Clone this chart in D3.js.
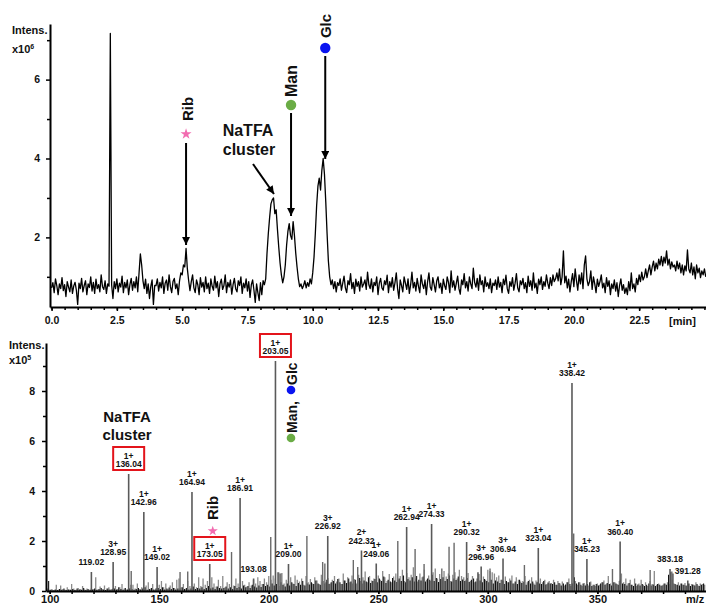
<!DOCTYPE html>
<html><head><meta charset="utf-8">
<script src="https://cdn.jsdelivr.net/npm/d3@7"></script>
<style>body{margin:0;background:#fff;} svg{display:block;font-family:Arial,"Liberation Sans",sans-serif;}</style>
</head><body><svg id="c" width="706" height="606"></svg>
<script>
// ---------- TIC (top) data : intensity x10^6, one value every 0.05 min from 0.00 ----------
const ticStart = 0, ticStep = 0.05;
const ticIntensity = [
0.72,0.85,0.60,0.95,0.78,0.55,0.82,0.70,0.98,0.65,0.80,0.50,0.88,0.74,0.62,0.92,0.58,0.77,0.86,0.66,
0.30,0.84,0.70,0.96,0.62,0.78,0.90,0.55,0.82,0.73,1.00,0.64,0.86,0.58,0.94,0.70,0.80,0.62,1.05,0.75,
0.68,0.90,0.58,0.82,0.76,7.17,0.80,0.45,0.88,0.70,0.95,0.62,0.84,0.74,1.02,0.60,0.86,0.72,0.92,0.55,
0.80,0.96,0.66,0.88,0.72,1.00,0.62,1.10,1.58,1.30,0.90,0.70,0.94,0.58,0.82,0.45,0.76,0.92,0.30,0.78,
0.78,0.95,0.64,0.86,0.72,1.00,0.58,0.84,0.92,0.66,1.05,0.75,0.60,0.88,0.96,0.70,0.82,0.55,0.90,1.10,
1.05,1.30,1.25,1.72,1.20,0.90,0.65,0.88,1.05,0.72,0.60,0.92,0.80,0.55,0.98,0.74,0.86,0.62,1.00,0.70,
0.84,0.58,0.95,0.76,0.66,1.02,0.72,0.88,0.50,0.82,0.94,0.68,0.78,1.05,0.60,0.86,0.74,0.92,0.56,0.80,
0.96,0.70,0.62,0.90,0.78,1.00,0.58,0.84,0.72,0.95,0.64,0.88,0.48,0.80,0.92,0.66,0.35,0.82,0.60,0.40,
0.85,0.55,0.90,0.80,0.95,1.60,2.10,2.50,2.85,2.95,3.00,2.60,2.70,2.20,1.75,1.35,1.05,0.85,1.00,1.30,
1.80,2.15,2.35,2.05,1.95,2.40,2.05,1.60,1.25,0.95,0.75,0.82,0.70,0.78,0.90,0.72,0.85,0.76,0.95,0.82,
1.10,1.50,2.10,2.80,3.30,3.50,3.20,3.70,4.00,3.60,2.90,2.10,1.40,1.00,0.80,0.92,0.70,0.88,0.62,0.85,
0.78,0.95,0.66,0.84,1.02,0.72,0.60,0.90,0.80,1.08,0.70,0.86,0.58,0.94,0.76,0.88,0.64,1.00,0.74,0.82,
0.92,0.68,1.12,0.80,0.70,0.95,0.62,0.86,0.78,1.00,0.55,0.84,0.96,0.72,0.66,0.90,0.80,1.04,0.60,0.88,
0.74,0.98,0.66,0.85,1.10,0.70,0.45,0.92,0.78,0.62,1.00,0.84,0.68,0.95,0.58,0.80,1.12,0.72,0.86,0.64,
0.96,0.76,0.60,1.05,0.82,0.70,0.92,0.55,0.88,1.10,0.74,0.66,0.98,0.80,0.62,0.90,1.00,0.72,0.84,0.58,
0.94,0.78,0.68,1.00,0.86,0.60,1.15,0.74,0.90,0.66,0.84,1.02,0.70,0.56,0.92,0.80,1.08,0.72,0.88,0.64,
1.00,0.82,0.70,1.22,0.86,0.74,0.96,0.66,1.05,0.80,0.90,0.62,1.00,0.76,0.85,0.70,0.95,0.60,0.84,0.78,
0.92,0.68,1.00,0.74,0.86,0.60,0.94,0.80,1.04,0.70,0.58,0.88,0.76,0.98,0.66,0.84,1.08,0.72,0.62,0.90,
0.80,0.96,0.70,0.85,0.60,1.02,0.76,0.90,0.66,1.10,0.72,0.84,0.58,0.94,0.80,1.00,0.68,0.88,0.76,1.05,
0.84,0.70,0.98,0.78,1.05,0.88,0.95,1.10,0.90,1.20,0.80,1.00,1.66,0.85,1.02,0.72,0.94,0.62,0.88,1.08,
0.75,1.20,0.90,0.66,1.05,0.82,1.10,0.70,1.30,1.53,0.95,0.78,0.88,1.15,0.68,1.00,0.82,0.60,0.94,0.76,
0.88,1.05,0.72,0.84,0.60,0.98,0.76,0.90,0.55,0.82,0.70,0.92,0.64,0.85,0.50,0.78,0.95,0.66,0.80,0.58,
0.72,0.55,0.88,0.65,1.10,0.70,0.82,0.62,0.96,0.80,1.05,0.88,1.12,0.92,1.00,1.20,0.98,1.15,1.30,1.05,
1.25,1.40,1.15,1.35,1.20,1.45,1.30,1.52,1.28,1.50,1.35,1.66,1.30,1.45,1.20,1.38,1.25,1.30,1.15,1.40,
1.20,1.35,1.10,1.30,1.05,1.28,1.15,1.68,1.20,1.10,1.35,1.05,1.25,0.95,1.30,1.10,1.22,0.98,1.15,1.05,
1.20,1.00
];
const ticXTicks = [0,2.5,5,7.5,10,12.5,15,17.5,20,22.5];
const ticYTicks = [2,4,6];

// ---------- MS (bottom) data : intensity x10^5 ----------
const msPeakMz = [119.02,128.95,136.04,142.96,149.02,164.94,173.05,186.91,193.08,203.05,209.00,226.92,242.32,249.06,262.94,274.33,290.32,296.96,306.94,323.04,338.42,345.23,360.40,383.18,391.28];
const msPeakInt = [0.76,1.16,4.68,3.16,0.96,3.96,1.08,3.72,0.50,9.20,1.08,2.20,1.62,1.10,2.56,2.68,1.96,0.98,1.30,1.72,8.32,1.28,1.98,0.88,0.42];
const msPeakCharge = ["","3+","1+","1+","1+","1+","1+","1+","","1+","1+","3+","2+","1+","1+","1+","1+","3+","3+","1+","1+","1+","1+","",""];
const msBoxed = [136.04,173.05,203.05];
const msExtraMz = [137.2,159.5,163.0,183.0,200.9,204.5,205.5,217.4,224.6,225.6,238.6,240.6,258.9,266.8,270.9,279.0,282.3,284.6,301.0,316.7,339.2,356.9,374.1,384.0];
const msExtraInt = [0.80,0.76,0.78,1.56,2.16,0.75,0.70,2.20,1.16,1.10,1.24,0.96,2.00,1.68,1.08,0.90,1.77,1.93,0.90,1.04,2.30,0.88,0.84,0.78];
const msNoiseGrayStart = 99;   // one gray bar per m/z unit
const msNoiseGray = [
.10,.05,.08,.04,.25,.06,.22,.08,.05,.15,
.06,.28,.10,.05,.12,.08,.20,.06,.10,.05,
.10,.08,.55,.06,.18,.08,.22,.10,.15,.05,
.12,.20,.08,.15,.28,.10,.06,.12,.25,.25,
.10,.30,.08,.15,.06,.22,.35,.10,.28,.05,
.12,.25,.40,.15,.30,.08,.22,.35,.12,.45,
.50,.15,.28,.10,.40,.20,.06,.30,.15,.55,
.20,.50,.25,.40,.12,.55,.30,.18,.45,.20,
.60,.15,.35,.28,.10,.22,.50,.30,.12,.40,
.25,.18,.35,.22,.45,.30,.55,.40,.28,.50,
.35,.60,.45,.62,.50,.75,.70,.72,.30,.45,
.40,.55,.30,.62,.45,.38,.50,.25,.60,.35,
.48,.30,.55,.42,.28,.65,.40,.35,.52,.30,
.45,.60,.38,.50,.28,.70,.42,.55,.35,.62,
.48,.30,.65,.40,.55,.78,.35,.60,.42,.50,
.38,.62,.45,.80,.55,.40,.68,.35,.58,.70,
.45,.60,.85,.40,.72,.55,.65,.95,.50,.38,
.70,.55,.85,.45,.62,.40,.75,.90,.50,.68,
.45,.80,.58,.70,.40,.65,.75,.50,.85,.60,
.55,.45,.72,.40,.60,.35,.50,.68,.42,.58,
.45,.85,.80,.75,.70,.55,.62,.45,.40,.58,
.35,.50,.62,.30,.55,.45,.38,.40,.60,.35,
.45,.55,.30,.42,.38,.50,.35,.45,.28,.40,
.32,.45,.25,.40,.30,.38,.22,.35,.50,.20,
.30,.40,.25,.35,.20,.32,.28,.22,.38,.25,
.20,.30,.25,.35,.42,.28,.60,.30,.22,.35,
.28,.40,.70,.35,.50,.30,.45,.25,.50,.20,
.30,.45,.25,.35,.20,.40,.28,.80,.25,.30,
.20,.25,.30,.35,.28,.45,.30,.25,.35,.30,
.25,.32,.20,.30,.28,.25,.35,.22,.30,.28,
.25];
const msNoiseBlackStart = 99.5; // one black bar per m/z unit, offset by 0.5
const msNoiseBlack = [
.40,.05,.03,.06,.04,.08,.05,.10,.04,.06,
.05,.08,.04,.10,.06,.05,.12,.04,.08,.05,
.06,.10,.05,.08,.12,.06,.04,.10,.06,.08,
.10,.06,.15,.08,.05,.12,.06,.10,.08,.05,
.08,.12,.06,.10,.15,.05,.08,.12,.06,.10,
.12,.08,.15,.06,.10,.14,.08,.12,.06,.10,
.10,.15,.08,.12,.06,.10,.18,.08,.12,.10,
.15,.08,.12,.20,.10,.14,.08,.18,.12,.10,
.12,.18,.10,.15,.08,.20,.12,.16,.10,.22,
.15,.20,.12,.25,.18,.14,.22,.16,.28,.20,
.25,.18,.30,.22,.28,.20,.35,.25,.18,.30,
.22,.35,.28,.20,.32,.25,.40,.22,.30,.26,
.35,.28,.42,.30,.25,.38,.30,.45,.28,.35,
.40,.30,.48,.35,.28,.42,.32,.50,.38,.30,
.45,.35,.52,.30,.42,.38,.55,.32,.40,.48,
.35,.50,.40,.58,.32,.45,.38,.52,.42,.36,
.50,.40,.62,.35,.48,.42,.55,.38,.60,.45,
.42,.58,.38,.50,.45,.65,.40,.52,.36,.48,
.55,.40,.48,.62,.38,.50,.44,.58,.40,.46,
.40,.52,.36,.45,.50,.38,.75,.42,.35,.48,
.40,.35,.45,.30,.42,.38,.32,.45,.28,.40,
.35,.42,.30,.38,.28,.45,.32,.36,.25,.40,
.30,.38,.25,.35,.30,.28,.40,.26,.34,.30,
.28,.35,.25,.32,.22,.30,.26,.35,.28,.30,
.55,.30,.35,.25,.30,.22,.28,.35,.20,.25,
.28,.22,.30,.35,.25,.32,.28,.22,.35,.30,
.25,.45,.30,.28,.22,.32,.25,.20,.30,.26,
.22,.28,.20,.25,.30,.22,.26,.20,.28,.25,
.22,.30,.25,.65,.75,.70,.28,.25,.22,.30,
.25,.22,.30,.20,.26,.22,.28,.20,.25,.30];
const msXTicks = [100,150,200,250,300,350];
const msYTicks = [0,2,4,6,8];

// ---------- drawing ----------
const svg = d3.select("#c");
const FONT = 'Arial,"Liberation Sans",sans-serif';
const defs = svg.append("defs");
defs.append("marker").attr("id","arr").attr("viewBox","0 0 10 10").attr("refX",10).attr("refY",5)
  .attr("markerWidth",9).attr("markerHeight",8).attr("markerUnits","userSpaceOnUse").attr("orient","auto")
  .append("path").attr("d","M0,0L10,5L0,10z").attr("fill","#000");

function styleAxis(g, fs){
  g.select(".domain").attr("stroke","#000").attr("stroke-width",2);
  g.selectAll(".tick line").attr("stroke","#000").attr("stroke-width",1.5);
  g.selectAll(".tick text").attr("font-weight","bold").attr("fill","#111").attr("font-size",fs).attr("font-family",FONT);
}

// ===== TOP =====
const xT = d3.scaleLinear().domain([-0.06, 25.06]).range([50, 706]);
const yT = d3.scaleLinear().domain([0.235, 7.41]).range([307, 24]);

svg.append("path").datum(ticIntensity)
  .attr("d", d3.line().x((d,i)=>xT(ticStart+i*ticStep)).y(d=>yT(d)))
  .attr("fill","none").attr("stroke","#000").attr("stroke-width",1.3).attr("stroke-linejoin","round");

const gTxm = svg.append("g").attr("transform","translate(0,307)")
  .call(d3.axisBottom(xT).tickValues(d3.range(0,25.01,0.5)).tickSize(3).tickSizeOuter(0).tickFormat(""));
gTxm.select(".domain").remove(); styleAxis(gTxm,10.5);
const gTx = svg.append("g").attr("transform","translate(0,307)")
  .call(d3.axisBottom(xT).tickValues(ticXTicks).tickSize(4).tickSizeOuter(0).tickPadding(6).tickFormat(d3.format(".1f")));
styleAxis(gTx,10.5);
const gTym = svg.append("g").attr("transform","translate(50,0)")
  .call(d3.axisLeft(yT).tickValues([1,3,5,7]).tickSize(3).tickSizeOuter(0).tickFormat(""));
gTym.select(".domain").remove(); styleAxis(gTym,10.5);
const gTy = svg.append("g").attr("transform","translate(50,0)")
  .call(d3.axisLeft(yT).tickValues(ticYTicks).tickSize(4).tickSizeOuter(0).tickPadding(6));
styleAxis(gTy,10.5);

function txt(x,y,s,fs,opts={}){
  const t = svg.append("text").attr("x",x).attr("y",y).attr("font-size",fs).attr("font-weight",opts.w||"bold")
    .attr("font-family",FONT).attr("fill",opts.fill||"#111").attr("text-anchor",opts.anchor||"start").text(s);
  return t;
}
function rtxt(x,y,s,fs,anchor){
  return svg.append("text").attr("transform",`translate(${x},${y}) rotate(-90)`).attr("font-size",fs)
    .attr("font-weight","bold").attr("font-family",FONT).attr("fill","#111").attr("text-anchor",anchor||"middle").text(s);
}
function expLabel(x,y,e){
  const t = txt(x,y,"x10",11);
  t.append("tspan").attr("dy",-4).attr("font-size",7).text(e);
}
txt(12,34,"Intens.",11); expLabel(12,53,"6");
txt(669,325,"[min]",11);

function arrow(x1,y1,x2,y2){
  svg.append("line").attr("x1",x1).attr("y1",y1).attr("x2",x2).attr("y2",y2)
    .attr("stroke","#000").attr("stroke-width",2).attr("marker-end","url(#arr)");
}
const pink = "#f26cb0", green = "#6aac45", blue = "#0a14f0";
const star = d3.symbol().type(d3.symbolStar);
// Rib
svg.append("path").attr("d",star.size(38)()).attr("transform",`translate(${xT(5.15)},134)`).attr("fill",pink);
rtxt(xT(5.15)+7,109,"Rib",15);
arrow(xT(5.15),143,xT(5.15),245);
// NaTFA cluster
txt(248,136,"NaTFA",16,{anchor:"middle"});
txt(249,155,"cluster",16,{anchor:"middle"});
arrow(253,164,274,194);
// Man
svg.append("circle").attr("cx",xT(9.17)).attr("cy",105).attr("r",5.2).attr("fill",green);
rtxt(xT(9.17)+6,81,"Man",16);
arrow(xT(9.17),113,xT(9.17),216);
// Glc
svg.append("circle").attr("cx",xT(10.48)).attr("cy",48).attr("r",5.2).attr("fill",blue);
rtxt(xT(10.48)+6,26,"Glc",15);
arrow(xT(10.48),56,xT(10.48),159);

// ===== BOTTOM =====
const xM = d3.scaleLinear().domain([98.3, 399.6]).range([46, 706]);
const yM = d3.scaleLinear().domain([0, 9.92]).range([591, 343]);

function bars(mz, ints, color, w){
  svg.append("g").selectAll("line").data(mz.map((m,i)=>[m,ints[i]])).join("line")
    .attr("x1",d=>xM(d[0])).attr("x2",d=>xM(d[0])).attr("y1",yM(0)).attr("y2",d=>yM(d[1]))
    .attr("stroke",color).attr("stroke-width",w);
}
bars(msNoiseGray.map((v,i)=>msNoiseGrayStart+i), msNoiseGray, "#8a8a8a", 1.3);
bars(msNoiseBlack.map((v,i)=>msNoiseBlackStart+i), msNoiseBlack, "#111", 1.1);
bars(msExtraMz, msExtraInt, "#6a6a6a", 1.4);
bars(msPeakMz, msPeakInt, "#5a5a5a", 1.6);

// peak labels
msPeakMz.forEach((m,i)=>{
  const x = xM(m), top = yM(msPeakInt[i]);
  if (msPeakCharge[i]) txt(x, top-15.5, msPeakCharge[i], 8.5, {anchor:"middle"});
  txt(x, top-7, m.toFixed(2), 8.5, {anchor:"middle"});
  if (msBoxed.includes(m)) {
    svg.append("rect").attr("x",x-15.5).attr("y",top-27).attr("width",31).attr("height",23)
      .attr("fill","none").attr("stroke","#e3141b").attr("stroke-width",2);
  }
});

const gBxm = svg.append("g").attr("transform","translate(0,591)")
  .call(d3.axisBottom(xM).tickValues(d3.range(100,400,10)).tickSize(3).tickSizeOuter(0).tickFormat(""));
gBxm.select(".domain").remove(); styleAxis(gBxm,11);
const gBx = svg.append("g").attr("transform","translate(0,591)")
  .call(d3.axisBottom(xM).tickValues(msXTicks).tickSize(3).tickSizeOuter(0).tickPadding(1.5));
styleAxis(gBx,11);
const gBym = svg.append("g").attr("transform","translate(46,0)")
  .call(d3.axisLeft(yM).tickValues([1,3,5,7,9]).tickSize(3).tickSizeOuter(0).tickFormat(""));
gBym.select(".domain").remove(); styleAxis(gBym,10.5);
const gBy = svg.append("g").attr("transform","translate(46,0)")
  .call(d3.axisLeft(yM).tickValues(msYTicks).tickSize(4).tickSizeOuter(0).tickPadding(7));
styleAxis(gBy,10.5);

txt(9,349,"Intens.",11); expLabel(9,364,"5");
txt(686,603,"m/z",11);

// annotations
txt(127,422,"NaTFA",15,{anchor:"middle"});
txt(127,440,"cluster",15,{anchor:"middle"});
svg.append("path").attr("d",star.size(32)()).attr("transform",`translate(${xM(173.05)+3},531)`).attr("fill",pink);
rtxt(xM(173.05)+8,508,"Rib",15);
svg.append("circle").attr("cx",291).attr("cy",438).attr("r",4.3).attr("fill",green);
svg.append("circle").attr("cx",291).attr("cy",390).attr("r",4.3).attr("fill",blue);
rtxt(297,433,"Man,",14,"start");
rtxt(297,385,"Glc",14,"start");
</script></body></html>
